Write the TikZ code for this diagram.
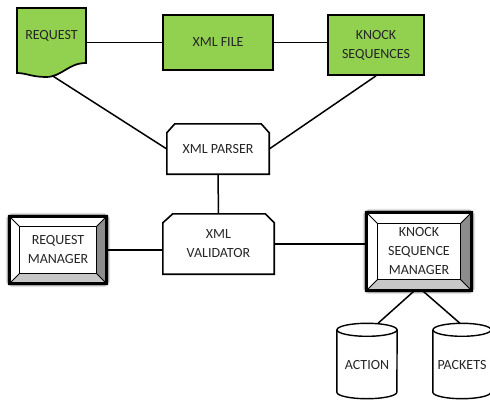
\documentclass[tikz,border=0pt]{standalone}
\usepackage{fontspec}
\setmainfont{Carlito}
\definecolor{grn}{HTML}{92D050}
\pgfdeclarelayer{bg}
\pgfsetlayers{bg,main}
\newcommand\bevbox[2]{%
 \begin{pgfonlayer}{bg}
 \coordinate (#1i1) at ([shift={(#2,-#2)}]#1.north west);
 \coordinate (#1i2) at ([shift={(-#2,-#2)}]#1.north east);
 \coordinate (#1i3) at ([shift={(-#2,#2)}]#1.south east);
 \coordinate (#1i4) at ([shift={(#2,#2)}]#1.south west);
 \draw[line width=8pt, black!12, rounded corners=3pt] (#1.north west) rectangle (#1.south east);
 \draw[line width=5.5pt, black!35, rounded corners=2pt] (#1.north west) rectangle (#1.south east);
 \fill[white] (#1.north west) rectangle (#1.south east);
 \fill[black!45] (#1.north east) -- (#1.south east) -- (#1i3) -- (#1i2) -- cycle;
 \fill[black!22] (#1.south west) -- (#1.south east) -- (#1i3) -- (#1i4) -- cycle;
 \draw[line width=0.8pt] (#1.north west) -- (#1i1) (#1.north east) -- (#1i2) (#1.south east) -- (#1i3) (#1.south west) -- (#1i4);
 \draw[line width=1pt] (#1i1) rectangle (#1i3);
 \draw[line width=2.8pt] (#1.north west) rectangle (#1.south east);
 \end{pgfonlayer}}
\newcommand\cylbox[3]{% name, half width, ry
 \draw[line width=1.4pt] ([yshift=-#3]#1.north west) -- ([yshift=#3]#1.south west)
   arc[start angle=180, end angle=360, x radius=#2, y radius=#3]
   -- ([yshift=-#3]#1.north east);
 \draw[line width=1.4pt] ([yshift=-#3]#1.north) ellipse [x radius=#2, y radius=#3];}
\begin{document}
\begin{tikzpicture}[x=1pt,y=-1pt,
  every node/.style={font=\fontsize{14}{19}\selectfont, text=black!85, inner sep=0pt, align=center},
  gbox/.style={draw, fill=grn, line width=1.7pt},
  conn/.style={line width=1.5pt},
  frame/.style={line width=1.6pt}]
\useasboundingbox (0,0) rectangle (490,399);

% request document
\draw[fill=grn, line width=1.7pt] (17,8) -- (86,8) -- (86,63)
  .. controls (68,63) and (62,77) .. (46,77)
  .. controls (32,77) and (26,73) .. (17,73) -- cycle;
\node[minimum width=69pt, minimum height=56pt] (req) at (51.5,36) {REQUEST};
\coordinate (reqb) at (52,75.5);

\node[gbox, minimum width=110pt, minimum height=55pt] (xml) at (218,42.5) {XML FILE};
\node[gbox, minimum width=96pt, minimum height=60pt] (ks) at (376,45) {KNOCK\\SEQUENCES};

% parser
\node[minimum width=102pt, minimum height=50pt] (par) at (218,149) {XML PARSER};
\draw[frame] ([xshift=8pt]par.north west) -- ([xshift=-8pt]par.north east) -- ([yshift=-9pt]par.north east)
  -- (par.south east) -- (par.south west) -- ([yshift=-9pt]par.north west) -- cycle;

% validator
\node[minimum width=111pt, minimum height=60pt] (val) at (218.5,244) {XML\\VALIDATOR};
\draw[frame] ([xshift=10pt]val.north west) -- ([xshift=-9pt]val.north east) -- ([yshift=-9pt]val.north east)
  -- (val.south east) -- (val.south west) -- ([yshift=-9pt]val.north west) -- cycle;

% managers
\node[minimum width=96pt, minimum height=66pt] (rm) at (58,250) {REQUEST\\MANAGER};
\bevbox{rm}{9.5pt}
\node[minimum width=104pt, minimum height=77pt] (ksm) at (419,251.5) {KNOCK\\SEQUENCE\\MANAGER};
\bevbox{ksm}{10.5pt}

% cylinders
\node[minimum width=60pt, minimum height=75pt, text height=18pt] (act) at (367,361) {ACTION};
\cylbox{act}{30pt}{6.5pt}
\node[minimum width=58pt, minimum height=75pt, text height=18pt] (pkt) at (462,361) {PACKETS};
\cylbox{pkt}{29pt}{6.5pt}

% connectors
\draw[conn] (req.east |- xml.west) -- (xml.west);
\draw[conn] (xml.east) -- (xml.east -| ks.west);
\draw[conn] (reqb) -- (par.west);
\draw[conn] (ks.south) -- (par.east);
\draw[conn] (par.south) -- (val.north);
\draw[conn] (rm.east) -- (rm.east -| val.west);
\draw[conn] (val.east) -- (val.east -| ksm.west);
\draw[conn] ([xshift=-4pt]ksm.south) -- ([xshift=11pt]act.north);
\draw[conn] ([xshift=3pt]ksm.south) -- ([xshift=-2pt]pkt.north);
\end{tikzpicture}
\end{document}
